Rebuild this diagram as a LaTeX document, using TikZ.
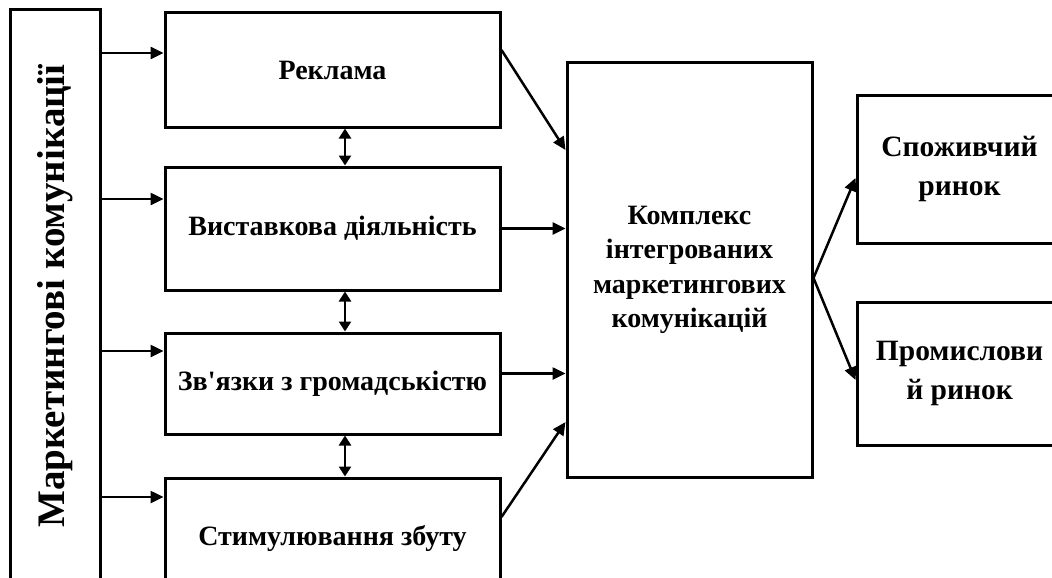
\documentclass[tikz,border=0pt]{standalone}
\usepackage{fontspec}
\setmainfont{Liberation Serif}[Ligatures=TeXOff]
\usetikzlibrary{arrows.meta,positioning,calc}

\begin{document}
\begin{tikzpicture}[x = 1pt, y = -1pt,
  box/.style = {draw, line width = 3pt, align = center, inner sep = 0pt, font = \bfseries\fontsize{28}{34.5}\selectfont},
  mkt/.style = {box, font = \bfseries\fontsize{29.5}{39}\selectfont},
  arr/.style = {-{Triangle[length = 13pt, width = 12pt]}, line width = 2.5pt},
  dbl/.style = {{Triangle[length = 10pt, width = 12pt]}-{Triangle[length = 10pt, width = 12pt]}, line width = 2.5pt}]
\useasboundingbox (0,0) rectangle (1052,578);
\node[box, minimum width = 90pt, minimum height = 572pt] (mk) at (55,296) {\rotatebox{90}{\fontsize{39}{40}\selectfont Маркетингові комунікації}};
\node[box, minimum width = 335pt, minimum height = 114pt] (r1) at (332.5,70) {Реклама};
\node[box, minimum width = 335pt, minimum height = 123pt] (r2) at (332.5,228.5) {Виставкова діяльність};
\node[box, minimum width = 335pt, minimum height = 101pt] (r3) at (332.5,383.5) {Зв'язки з громадськістю};
\node[box, minimum width = 335pt, minimum height = 120pt] (r4) at (332.5,538) {Стимулювання збуту};
\node[box, minimum width = 245pt, minimum height = 414pt] (kim) at (689.5,270) {Комплекс\\інтегрованих\\маркетингових\\комунікацій};
\node[mkt, minimum width = 205pt, minimum height = 148pt] (sp) at (959.5,169) {Споживчий\\ринок};
\node[mkt, minimum width = 205pt, minimum height = 143pt] (pr) at (959.5,373.5) {Промислови\\й ринок};
\foreach \b/\s in {r1/17, r2/29.5, r3/32.5, r4/41}
  \draw[arr] ($(mk.east |- \b.west)+(0,-\s)$) -- ($(\b.west)+(0,-\s)$);
\foreach \a/\b in {r1/r2, r2/r3, r3/r4}
  \draw[dbl] ($(\a.south)+(12.5,0)$) -- ($(\b.north)+(12.5,0)$);
\draw[arr] ($(r1.east)+(0,-20)$) -- ($(kim.west)+(0,-120)$);
\draw[arr] (r2.east) -- (r2.east -| kim.west);
\draw[arr] ($(r3.east)+(0,-10)$) -- ($(r3.east -| kim.west)+(0,-10)$);
\draw[arr] ($(r4.east)+(0,-21)$) -- ($(kim.west)+(0,152)$);
\draw[arr] ($(kim.east)+(0,8)$) -- ($(sp.west)+(0,9)$);
\draw[arr] ($(kim.east)+(0,8)$) -- ($(pr.west)+(0,6.5)$);
\end{tikzpicture}
\end{document}
